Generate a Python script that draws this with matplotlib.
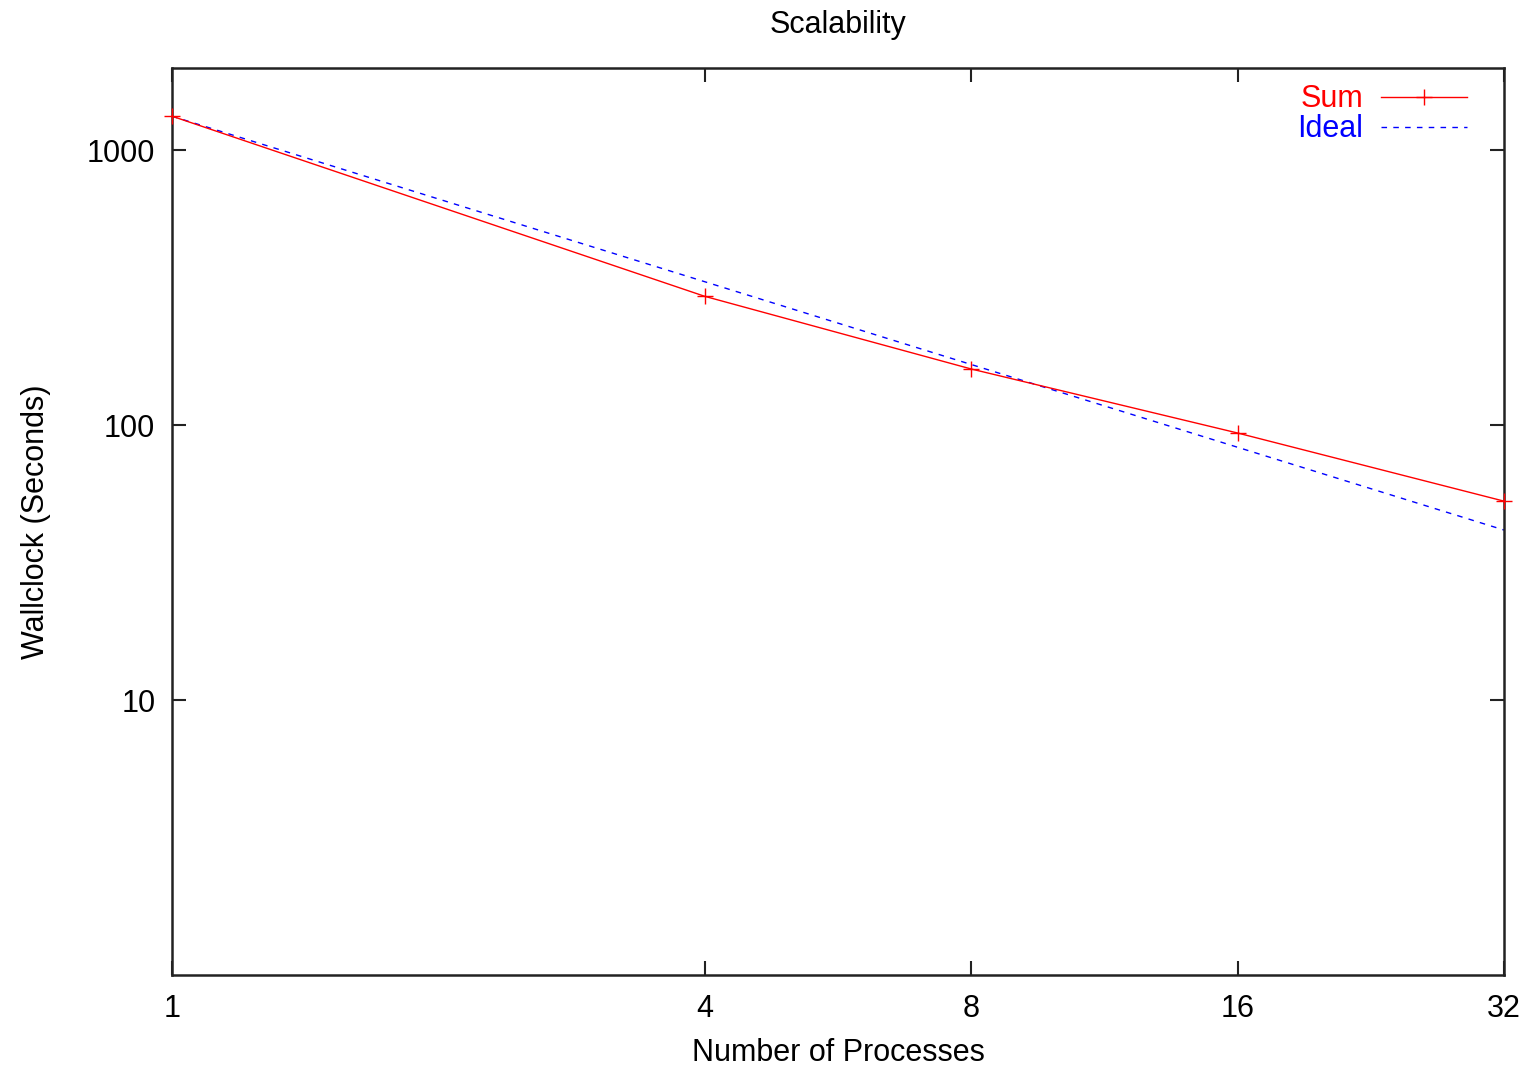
import matplotlib
matplotlib.use("Agg")
import matplotlib.pyplot as plt

# data
procs = [1, 4, 8, 16, 32]
sum_time = [1329, 294, 160, 93.6, 52.9]
ideal_time = [sum_time[0] / p for p in procs]

x_ticks = [1, 4, 8, 16, 32]
y_ticks = [10, 100, 1000]

plt.rcParams["font.family"] = ["Liberation Sans", "DejaVu Sans"]
FS = 22

fig = plt.figure(figsize=(15.32, 10.67), dpi=100)
ax = fig.add_axes([172 / 1532, 1 - 975 / 1067, 1332 / 1532, 907 / 1067])

ax.plot(procs, sum_time, color="red", lw=1.0, marker="+", ms=12, mew=1.0,
        label="Sum", clip_on=False, zorder=3)
ax.plot(procs, ideal_time, color="blue", lw=1.0, dashes=(4, 4.5),
        label="Ideal")

ax.set_xscale("log")
ax.set_yscale("log")
ax.set_xlim(1, 32)
ax.set_ylim(1, 1990)
ax.set_xticks(x_ticks)
ax.set_xticklabels([str(t) for t in x_ticks])
ax.set_yticks(y_ticks)
ax.set_yticklabels([str(t) for t in y_ticks])
ax.minorticks_off()

ax.tick_params(direction="in", length=10, width=1.5, labelsize=FS,
               top=True, right=True, color="#222222")
ax.tick_params(axis="x", pad=14)
ax.tick_params(axis="y", pad=12)
for s in ax.spines.values():
    s.set_linewidth(1.8)
    s.set_color("#222222")

ax.set_title("Scalability", fontsize=FS, pad=25)
ax.set_xlabel("Number of Processes", fontsize=FS, labelpad=10)
ax.set_ylabel("Wallclock (Seconds)", fontsize=FS, labelpad=26)

leg = ax.legend(loc="upper right", frameon=False, markerfirst=False,
                fontsize=FS, labelcolor=["red", "blue"], handlelength=2.8,
                handletextpad=0.6, labelspacing=0.0, borderaxespad=0.0,
                bbox_to_anchor=(1 - 25 / 1332, 1 - 4 / 907), numpoints=1)

fig.savefig("out.png", dpi=100)
